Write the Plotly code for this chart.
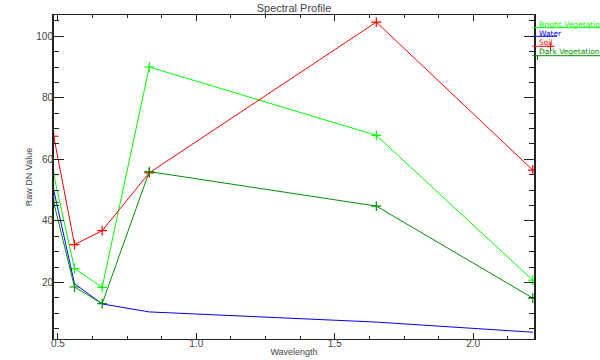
import plotly.graph_objects as go

wavelength = [0.485, 0.56, 0.66, 0.83, 1.65, 2.215]
series_names = ["Bright Vegetation", "Water", "Soil", "Dark Vegetation"]
bright_veg = [55.0, 24.5, 18.4, 90.0, 67.8, 20.7]
water = [50.0, 19.6, 13.0, 10.4, 7.1, 3.8]
soil = [67.5, 32.3, 36.8, 55.6, 104.6, 56.5]
dark_veg = [46.0, 18.5, 13.1, 56.0, 44.8, 14.9]
series_values = [bright_veg, water, soil, dark_veg]
colors = ["#00FF00", "#0000FF", "#FF0000", "#009000"]
show_markers = [True, False, True, True]

x_ticks = [0.5, 1.0, 1.5, 2.0]
x_tick_labels = ["0.5", "1.0", "1.5", "2.0"]
y_ticks = [20, 40, 60, 80, 100]

fig = go.Figure()
for name, vals, col, mk in zip(series_names, series_values, colors, show_markers):
    fig.add_trace(go.Scatter(
        x=wavelength, y=vals, name=name,
        mode="lines+markers" if mk else "lines",
        line=dict(color=col, width=1),
        marker=dict(symbol="cross-thin", size=7, line=dict(color=col, width=1.2)),
        showlegend=False,
    ))

L, R, T, B = 54, 66, 15, 21
W, H = 600, 360
pw, ph = W - L - R, H - T - B

def px(xp):
    return (xp - L) / pw

def py(yp):
    return (H - B - yp) / ph

axis_col = "#222222"
text_col = "#444444"

fig.update_layout(
    width=W, height=H,
    margin=dict(l=L, r=R, t=T, b=B, pad=0),
    paper_bgcolor="white", plot_bgcolor="white",
    font=dict(family="Liberation Sans, Arial", size=10, color=text_col),
    title=dict(text="Spectral Profile", x=px(294), xanchor="center", xref="paper",
               y=1 - 8 / H, yanchor="middle", font=dict(size=11, color=text_col)),
    xaxis=dict(range=[0.486, 2.2195], showgrid=False, zeroline=False, automargin=False,
               tickmode="array", tickvals=x_ticks, ticktext=x_tick_labels,
               ticks="inside", ticklen=6, tickwidth=1, tickcolor=axis_col,
               minor=dict(dtick=0.125, tick0=0.5, ticks="inside", ticklen=3,
                          tickwidth=1, tickcolor=axis_col),
               showline=True, linecolor=axis_col, linewidth=1, mirror="allticks",
               tickfont=dict(size=10, color=text_col), ticklabelstandoff=-5,
               title=dict(text="Wavelength", font=dict(size=9, color=text_col), standoff=0)),
    yaxis=dict(range=[1.6, 106.9], showgrid=False, zeroline=False, automargin=False,
               tickmode="array", tickvals=y_ticks,
               ticks="inside", ticklen=10, tickwidth=1, tickcolor=axis_col,
               minor=dict(dtick=5, tick0=0, ticks="inside", ticklen=5,
                          tickwidth=1, tickcolor=axis_col),
               showline=True, linecolor=axis_col, linewidth=2, mirror="allticks",
               tickfont=dict(size=10, color=text_col), ticklabelstandoff=-3,
               title=dict(text="Raw DN Value", font=dict(size=9, color=text_col), standoff=2)),
)

# legend drawn as underlined coloured labels at the right of the plot
leg_text_y = [24.0, 33.0, 42.3, 51.3]
leg_line_y = [27.7, 36.3, 46.3, 55.7]
leg_line_end = [620, 557, 553, 620]
for name, col, ty, ly, le in zip(series_names, colors, leg_text_y, leg_line_y, leg_line_end):
    fig.add_annotation(text=name, xref="paper", yref="paper", x=px(536.5), y=py(ty),
                       xanchor="left", yanchor="middle", showarrow=False,
                       font=dict(size=7.5, color=col, family="DejaVu Sans"))
    fig.add_shape(type="line", xref="paper", yref="paper", x0=px(532.5), x1=px(le),
                  y0=py(ly), y1=py(ly), line=dict(color=col, width=1))
# soil legend symbol
fig.add_shape(type="line", xref="paper", yref="paper", x0=px(546.5), x1=px(554.5),
              y0=py(46.3), y1=py(46.3), line=dict(color=colors[2], width=1))
fig.add_shape(type="line", xref="paper", yref="paper", x0=px(550.5), x1=px(550.5),
              y0=py(42.5), y1=py(50.5), line=dict(color=colors[2], width=1))
fig.add_shape(type="line", xref="paper", yref="paper", x0=px(537.5), x1=px(537.5),
              y0=py(55.7), y1=py(60), line=dict(color=colors[3], width=1))

fig.write_html("out.html")
